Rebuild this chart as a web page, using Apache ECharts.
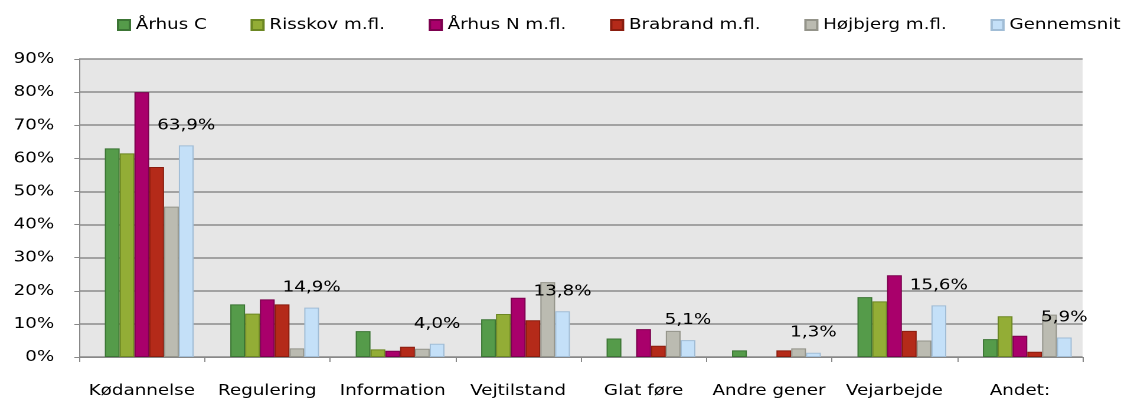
<!DOCTYPE html>
<html>
<head>
<meta charset="utf-8">
<script src="https://cdn.jsdelivr.net/npm/echarts@6/dist/echarts.min.js"></script>
<style>
  html, body { margin: 0; padding: 0; background: #fff; overflow: hidden; }
  /* the original chart is stretched sideways, so draw it narrower and widen it */
  #chart { width: 958px; height: 401px; transform: scaleX(1.1806); transform-origin: 0 0; }
</style>
</head>
<body>
<div id="chart"></div>
<script>
let categories = ['Kødannelse', 'Regulering', 'Information', 'Vejtilstand', 'Glat føre', 'Andre gener', 'Vejarbejde', 'Andet:']
let seriesNames = ['Århus C', 'Risskov m.fl.', 'Århus N m.fl.', 'Brabrand m.fl.', 'Højbjerg m.fl.', 'Gennemsnit']

let aarhusC = [63.0, 15.9, 7.8, 11.4, 5.6, 2.0, 18.1, 5.4]
let risskov = [61.5, 13.1, 2.3, 13.0, 0, 0, 16.8, 12.3]
let aarhusN = [80.0, 17.4, 1.9, 17.9, 8.4, 0, 24.7, 6.4]
let brabrand = [57.4, 15.9, 3.1, 11.1, 3.4, 2.0, 7.9, 1.6]
let hoejbjerg = [45.4, 2.6, 2.5, 22.6, 7.9, 2.6, 5.0, 12.8]
let gennemsnit = [63.9, 14.9, 4.0, 13.8, 5.1, 1.3, 15.6, 5.9]

let font = '"DejaVu Sans", Verdana, sans-serif'
let fs = 15.5

function bar (name, data, fill, border, withLabel) {
  let s = {
    name: name,
    type: 'bar',
    // zero bars are not drawn at all in the original (no border line)
    data: data.map(v => v === 0 ? null : v),
    barGap: '0%',
    barCategoryGap: '17.4%',
    itemStyle: {color: fill, borderColor: border, borderWidth: 1},
    emphasis: {disabled: true}
  }
  if (withLabel) {
    s.label = {
      show: true,
      position: 'top',
      distance: 12,
      color: '#000',
      fontFamily: font,
      fontSize: fs,
      formatter: p => p.value.toFixed(1).replace('.', ',') + '%'
    }
  }
  return s
}

let chart = echarts.init(document.getElementById('chart'), null, {devicePixelRatio: 2})
chart.setOption({
  animation: false,
  textStyle: {fontFamily: font},
  legend: {
    left: 99,
    top: 17,
    width: 1200,
    padding: 0,
    itemWidth: 10,
    itemHeight: 10,
    itemGap: 37,
    icon: 'rect',
    textStyle: {fontFamily: font, fontSize: fs, color: '#000'},
    data: seriesNames
  },
  grid: {left: 67, right: 41, top: 59, bottom: 44, show: true, backgroundColor: '#e6e6e6', borderWidth: 0},
  xAxis: {
    type: 'category',
    data: categories,
    axisLine: {lineStyle: {color: '#888', width: 1}},
    axisTick: {show: true, length: 5, lineStyle: {color: '#888'}},
    axisLabel: {color: '#000', fontSize: fs, margin: 26, fontFamily: font, interval: 0}
  },
  yAxis: {
    type: 'value',
    min: 0,
    max: 90,
    interval: 10,
    axisLine: {show: true, lineStyle: {color: '#888'}},
    axisTick: {show: true, length: 4, lineStyle: {color: '#888'}},
    axisLabel: {color: '#000', fontSize: fs, margin: 21, fontFamily: font, formatter: '{value}%'},
    splitLine: {lineStyle: {color: '#8c8c8c', width: 1.5}}
  },
  series: [
    // Excel left an empty slot in front of each group
    {name: '', type: 'bar', data: categories.map(() => null), barGap: '0%', barCategoryGap: '17.4%'},
    bar(seriesNames[0], aarhusC, '#559b4a', '#3c7535'),
    bar(seriesNames[1], risskov, '#93ad36', '#6c8723'),
    bar(seriesNames[2], aarhusN, '#a9006b', '#7c004e'),
    bar(seriesNames[3], brabrand, '#b42a19', '#8a1d0f'),
    bar(seriesNames[4], hoejbjerg, '#bbbbb1', '#94948a'),
    bar(seriesNames[5], gennemsnit, '#c4e0f8', '#a1bdd6', true)
  ]
})
</script>
</body>
</html>
